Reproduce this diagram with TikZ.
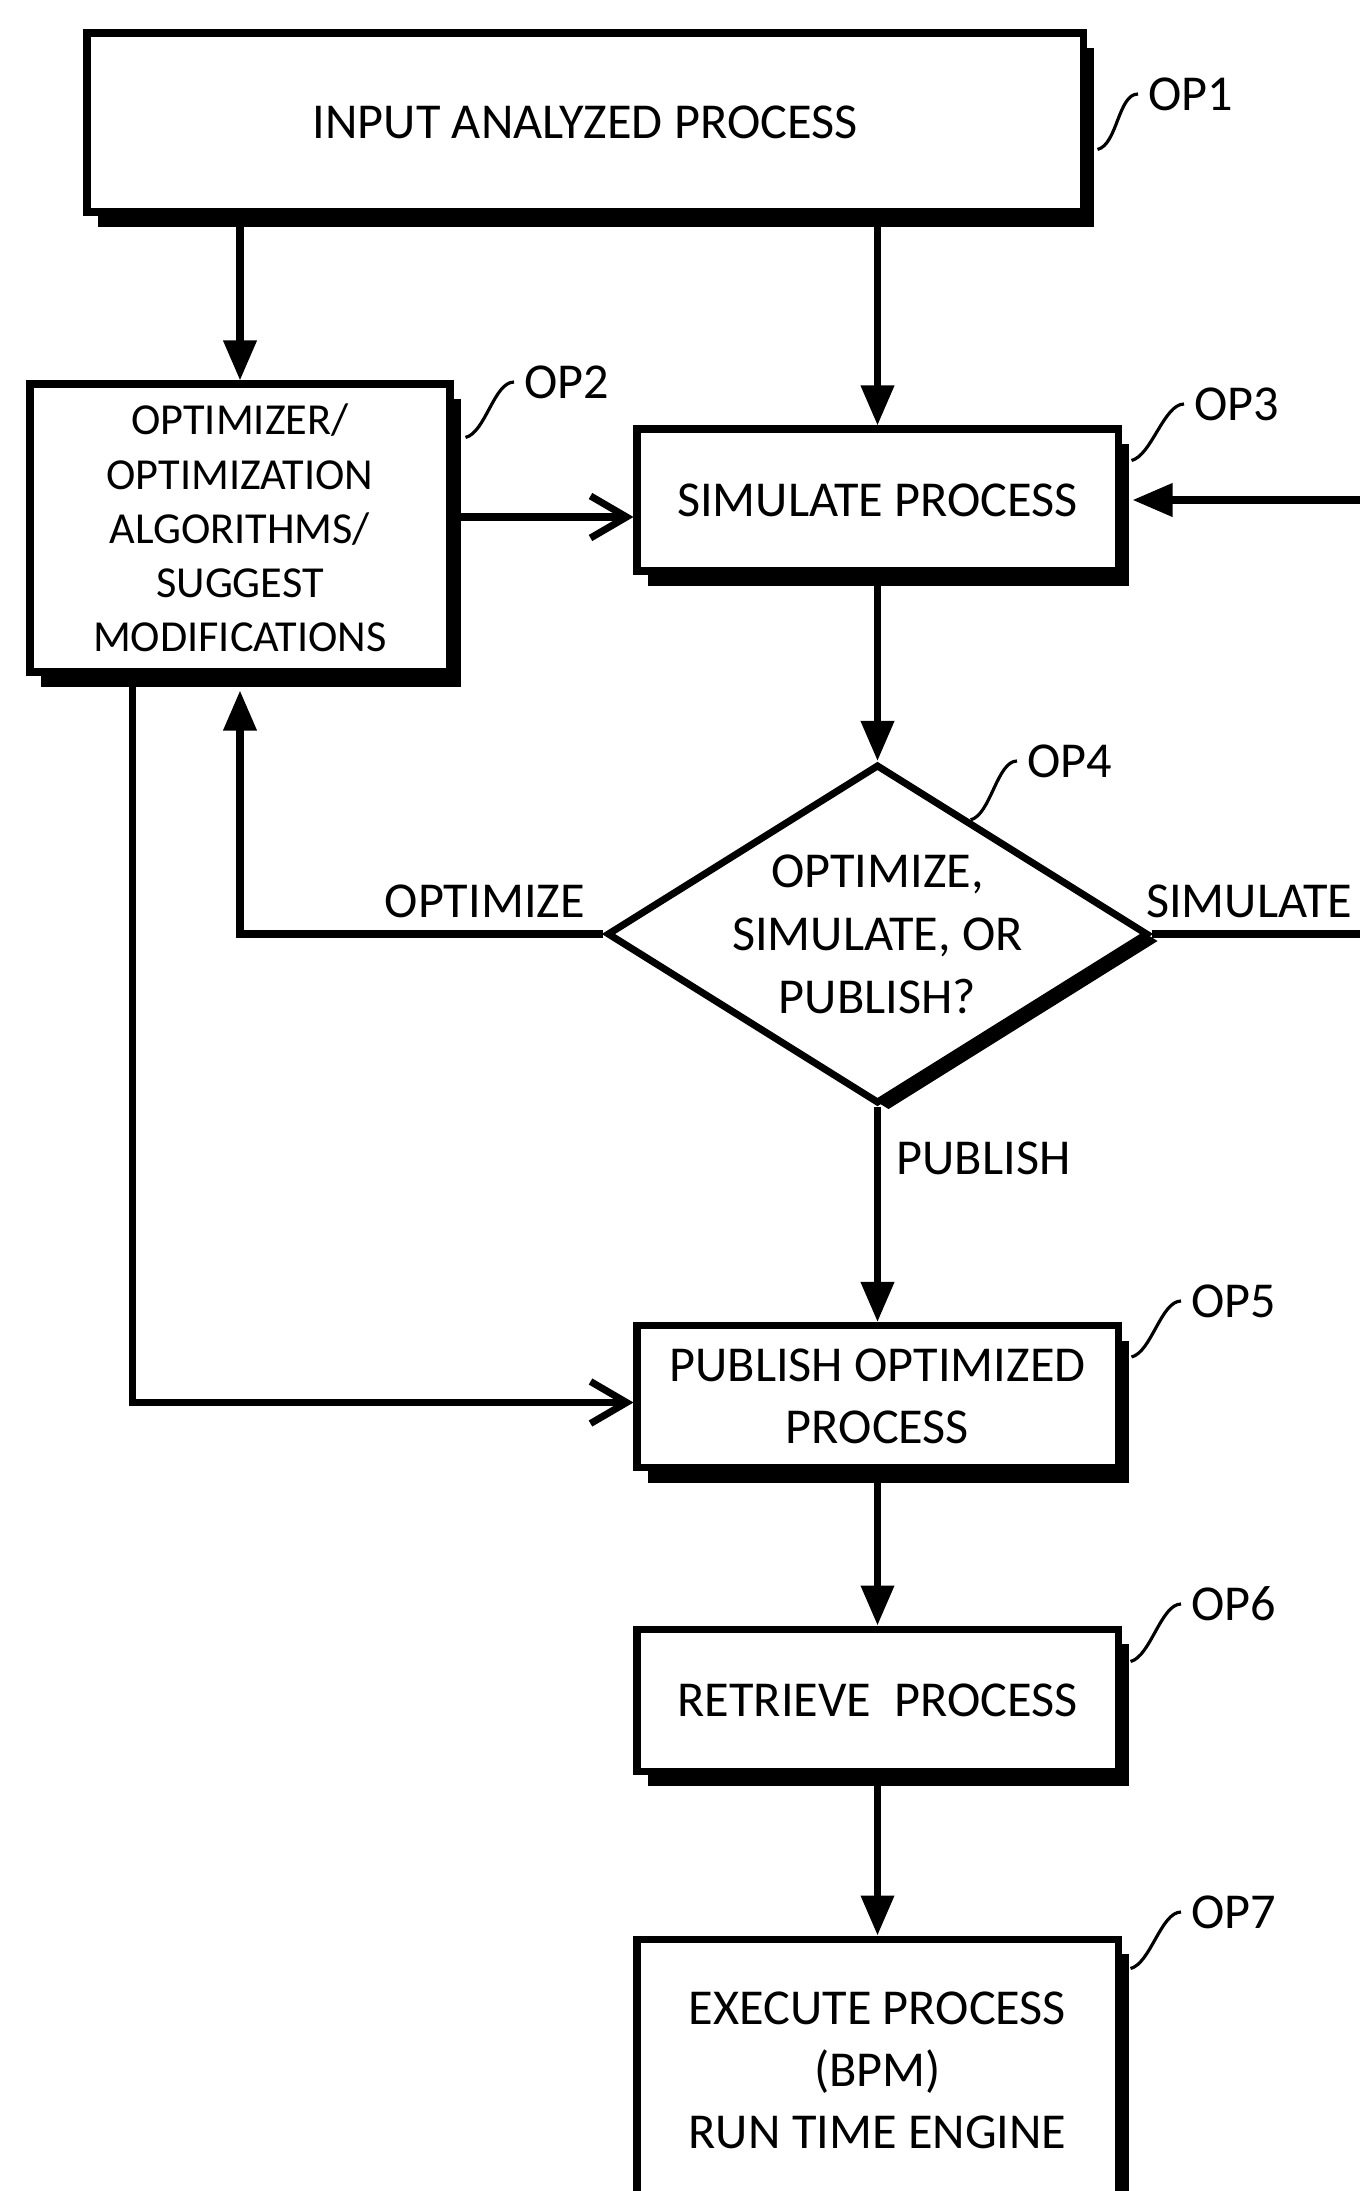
\documentclass[tikz,border=0pt]{standalone}
\usepackage{fontspec}
\setmainfont{Carlito}
\usetikzlibrary{shapes.geometric, shadows, arrows.meta, calc}

\tikzset{
  stepbox/.style={draw, fill=white, line width=2pt, align=center, inner sep=2pt,
    font=\fontsize{14.3}{17.6}\selectfont,
    drop shadow={shadow xshift=0.11cm, shadow yshift=-0.15cm, fill=black, opacity=1}},
  colbox/.style={stepbox, minimum width=4.81cm, minimum height=1.42cm},
  decide/.style={draw, fill=white, line width=2pt, shape=diamond, inner sep=0pt,
    minimum width=5.41cm, minimum height=3.39cm,
    drop shadow={shadow xshift=0.11cm, shadow yshift=-0.07cm, fill=black, opacity=1}},
  txt/.style={align=center, inner sep=0pt, font=\fontsize{14.3}{17.9}\selectfont},
  oplbl/.style={inner xsep=0.1cm, inner ysep=0pt, font=\fontsize{14.3}{17}\selectfont},
  lead/.style={line width=0.9pt},
  fillarr/.style={line width=2pt, -{Triangle[length=0.4cm,width=0.32cm]}},
  openarr/.style={line width=2pt, -{Straight Barb[length=0.36cm,width=0.42cm]}}
}

\begin{document}
\begin{tikzpicture}
  \useasboundingbox (0,0) rectangle (13.59,-21.91);
  \path (5.85,-1.225) node[stepbox, minimum width=9.96cm, minimum height=1.79cm] (op1) {INPUT ANALYZED PROCESS}
  (2.40,-5.28) node[stepbox, minimum width=4.20cm, minimum height=2.88cm,
    font=\fontsize{12.6}{15.4}\selectfont] (op2) {OPTIMIZER/\\OPTIMIZATION\\ALGORITHMS/\\SUGGEST\\MODIFICATIONS}
  (8.775,-5.00) node[colbox] (op3) {SIMULATE PROCESS}
  (8.775,-9.34) node[decide] (op4) {}
  (8.775,-13.965) node[colbox] (op5) {PUBLISH OPTIMIZED\\PROCESS}
  (8.775,-17.00) node[colbox] (op6) {RETRIEVE~~PROCESS}
  (8.775,-20.70) node[colbox, minimum height=2.62cm] (op7) {EXECUTE PROCESS\\(BPM)\\RUN TIME ENGINE};
  \node[txt] (op4t) at (op4) {OPTIMIZE,\\SIMULATE, OR\\PUBLISH?};

  % decision labels
  \node[txt, anchor=south east] (optl) at ([shift={(-0.18,0.15)}]op4.west) {OPTIMIZE};
  \node[txt, anchor=south west] (siml) at ([shift={(-0.06,0.15)}]op4.east) {SIMULATE};
  \node[txt, anchor=north west] (publ) at ([shift={(0.185,-0.34)}]op4.south) {PUBLISH};

  % connectors
  \coordinate (o2) at ([yshift=0.11cm]op2.east);
  \coordinate (rgt) at (13.75,-9.34);
  \draw[fillarr] (op1.south -| op2.north) -- (op2.north);
  \draw[fillarr] (op1.south -| op3.north) -- (op3.north);
  \draw[openarr] (o2) -- (o2 -| op3.west);
  \draw[fillarr] (op3.south) -- (op4.north);
  \draw[fillarr] (op4.west) -| ([yshift=-0.15cm]op2.south);
  \draw[fillarr] (op4.east) -- (rgt) |- ([xshift=0.11cm]op3.east);
  \draw[fillarr] (op4.south) -- (op5.north);
  \draw[openarr] ([xshift=1.06cm]op2.south west) |- ([yshift=-0.06cm]op5.west);
  \draw[fillarr] (op5.south) -- (op6.north);
  \draw[fillarr] (op6.south) -- (op7.north);

  % reference labels
  \node[oplbl, anchor=west] (op1l) at (11.38,-0.94) {OP1};
  \node[oplbl, anchor=west] (op2l) at (5.14,-3.82) {OP2};
  \node[oplbl, anchor=west] (op3l) at (11.84,-4.04) {OP3};
  \node[oplbl, anchor=west] (op4l) at (10.17,-7.61) {OP4};
  \node[oplbl, anchor=west] (op5l) at (11.81,-13.01) {OP5};
  \node[oplbl, anchor=west] (op6l) at (11.81,-16.04) {OP6};
  \node[oplbl, anchor=west] (op7l) at (11.81,-19.12) {OP7};
  \draw[lead] ([shift={(0.11,-1.2)}]op1.north east) .. controls +(0.2,0.05) and +(-0.2,0) .. (op1l.west);
  \draw[lead] ([shift={(0.12,-0.57)}]op2.north east) .. controls +(0.2,0.05) and +(-0.2,0) .. (op2l.west);
  \draw[lead] ([shift={(0.1,-0.35)}]op3.north east) .. controls +(0.2,0.05) and +(-0.2,0) .. (op3l.west);
  \draw[lead] ($(op4.north)!0.34!(op4.east)$) .. controls +(0.2,0.05) and +(-0.2,0) .. (op4l.west);
  \draw[lead] ([shift={(0.1,-0.35)}]op5.north east) .. controls +(0.2,0.05) and +(-0.2,0) .. (op5l.west);
  \draw[lead] ([shift={(0.09,-0.36)}]op6.north east) .. controls +(0.2,0.05) and +(-0.2,0) .. (op6l.west);
  \draw[lead] ([shift={(0.09,-0.33)}]op7.north east) .. controls +(0.2,0.05) and +(-0.2,0) .. (op7l.west);
\end{tikzpicture}
\end{document}
